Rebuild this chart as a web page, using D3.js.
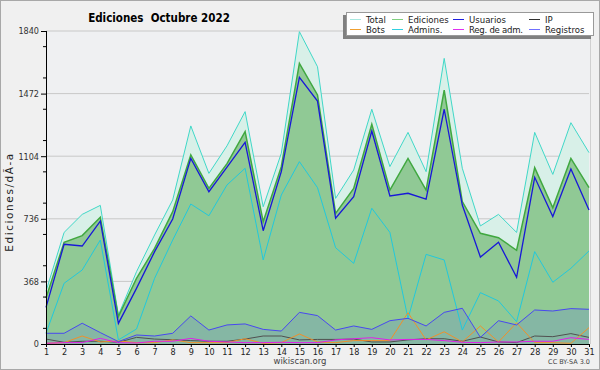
<!DOCTYPE html>
<html>
<head>
<meta charset="utf-8">
<script src="https://cdn.jsdelivr.net/npm/d3@7"></script>
<style>
  body { margin: 0; background: #f0f0f0; }
  svg { display: block; font-family: "DejaVu Sans", sans-serif; }
</style>
</head>
<body>
<div id="chart"></div>
<script>
// días del mes
const days = d3.range(1, 32);

const total     = [310, 656, 762, 815, 170, 425, 641, 847, 1282, 1003, 1165, 1366, 807, 1121, 1836, 1630, 856, 1023, 1380, 1043, 1244, 1013, 1679, 1033, 694, 762, 656, 1244, 997, 1301, 1125];
const ediciones = [270, 598, 637, 745, 161, 386, 562, 778, 1111, 915, 1060, 1248, 719, 1042, 1650, 1464, 768, 915, 1291, 905, 1091, 905, 1493, 837, 651, 625, 551, 1037, 801, 1091, 919];
const usuarios  = [215, 586, 576, 723, 121, 327, 543, 735, 1091, 895, 1040, 1185, 666, 1013, 1568, 1428, 739, 866, 1252, 870, 886, 852, 1380, 817, 511, 598, 392, 980, 749, 1029, 788];
const admins    = [63, 357, 435, 611, 24, 88, 386, 611, 823, 754, 935, 1033, 494, 876, 1072, 919, 566, 474, 798, 656, 150, 527, 494, 82, 302, 253, 131, 543, 363, 445, 547];
const registros = [63, 63, 122, 67, 14, 53, 47, 63, 165, 82, 112, 118, 86, 76, 186, 167, 82, 106, 86, 137, 151, 106, 186, 210, 39, 137, 112, 200, 194, 208, 204];
const ip        = [29, 10, 16, 16, 10, 39, 29, 25, 20, 16, 16, 29, 47, 47, 24, 27, 27, 29, 12, 12, 24, 31, 31, 16, 41, 12, 8, 47, 43, 61, 39];
const bots      = [4, 8, 47, 12, 18, 8, 8, 24, 8, 8, 8, 31, 4, 8, 59, 12, 8, 20, 20, 20, 184, 24, 72, 12, 106, 12, 125, 8, 8, 4, 96];
const regAdm    = [4, 8, 8, 33, 8, 6, 16, 16, 33, 16, 12, 8, 8, 10, 8, 8, 24, 31, 37, 24, 27, 27, 20, 10, 8, 12, 12, 16, 16, 37, 27];

const yTicks = [0, 368, 736, 1104, 1472, 1840];

const W = 600, H = 370;
const margin = {top: 31, right: 11, bottom: 26, left: 46};
const width = W - margin.left - margin.right,
      height = H - margin.top - margin.bottom;

const svg = d3.select("#chart").append("svg")
  .attr("width", W)
  .attr("height", H);

// fondo y marco
svg.append("rect").attr("x", 0.5).attr("y", 0.5).attr("width", W - 1).attr("height", H - 1)
  .attr("fill", "#f0f0f0").attr("stroke", "#a8a8a8");

const g = svg.append("g")
  .attr("transform", "translate(" + margin.left + "," + margin.top + ")");

const x = d3.scaleLinear().domain([1, 31]).range([0, width]);
const y = d3.scaleLinear().domain([0, 1840]).range([height, 0]);

g.append("rect").attr("width", width + 1).attr("height", height)
  .attr("fill", "#eff0f2");

// rejilla
g.selectAll(".grid").data(yTicks.slice(1))
  .enter().append("line")
  .attr("x1", 0).attr("x2", width)
  .attr("y1", d => y(d)).attr("y2", d => y(d))
  .attr("stroke", "#c8c8c8").attr("stroke-width", 1);

g.append("line").attr("x1", width + 1.5).attr("x2", width + 1.5)
  .attr("y1", 0).attr("y2", height).attr("stroke", "#d0d0d0");

function area(arr) {
  return d3.area().x((d, i) => x(days[i])).y0(height).y1(d => y(d))(arr);
}
function line(arr) {
  return d3.line().x((d, i) => x(days[i])).y(d => y(d))(arr);
}

g.append("path").attr("d", area(total)).attr("fill", "#d8f0e8");
g.append("path").attr("d", area(ediciones)).attr("fill", "#90c995");
g.append("path").attr("d", area(registros)).attr("fill", "#4a50ff").attr("fill-opacity", 0.15);

const series = [
  {data: admins, color: "#22c8dc", w: 1},
  {data: ip, color: "#505050", w: 1},
  {data: bots, color: "#f0902a", w: 1},
  {data: regAdm, color: "#e020e8", w: 1},
  {data: registros, color: "#4848f0", w: 1},
  {data: total, color: "#40d8c8", w: 1},
  {data: ediciones, color: "#40a840", w: 1.5},
  {data: usuarios, color: "#1818d8", w: 1.3}
];
series.forEach(s => {
  g.append("path").attr("d", line(s.data))
    .attr("fill", "none").attr("stroke", s.color).attr("stroke-width", s.w)
    .attr("stroke-linejoin", "miter");
});

// ejes
const yAxis = d3.axisLeft(y).tickValues(yTicks).tickSize(5).tickPadding(2).tickFormat(d3.format("d"));
const ya = g.append("g").call(yAxis);
ya.select(".domain").attr("stroke", "#000").attr("d", "M0.5,0V" + height);
ya.selectAll("text").attr("font-size", 9).attr("fill", "#333")
  .attr("font-family", "'DejaVu Sans Condensed', 'DejaVu Sans', sans-serif");

g.append("g").selectAll(".minor").data(d3.range(92, 1840, 184))
  .enter().append("line")
  .attr("x1", -3).attr("x2", 0)
  .attr("y1", d => y(d)).attr("y2", d => y(d))
  .attr("stroke", "#000");

const xAxis = d3.axisBottom(x).tickValues(days).tickSize(3).tickPadding(2).tickFormat(d3.format("d"));
const xa = g.append("g").attr("transform", "translate(0," + height + ")").call(xAxis);
xa.select(".domain").attr("stroke", "#000").attr("d", "M0,0.5H" + width);
xa.selectAll("text").attr("font-size", 9).attr("fill", "#222")
  .attr("font-family", "'DejaVu Sans Condensed', 'DejaVu Sans', sans-serif");

// textos
svg.append("text").attr("x", 159).attr("y", 22).attr("text-anchor", "middle")
  .attr("font-size", 11.5).attr("font-weight", "bold")
  .attr("font-family", "'DejaVu Sans Condensed', 'DejaVu Sans', sans-serif")
  .text("Ediciones  Octubre 2022").style("white-space", "pre");

svg.append("text").attr("transform", "translate(13,202) rotate(-90)")
  .attr("text-anchor", "middle").attr("font-size", 10.5).attr("fill", "#222")
  .attr("letter-spacing", 1.6)
  .text("Ediciones/dÃ-a");

svg.append("text").attr("x", 300).attr("y", 364).attr("text-anchor", "middle")
  .attr("font-size", 8.5).attr("fill", "#444").text("wikiscan.org");
svg.append("text").attr("x", 590).attr("y", 364).attr("text-anchor", "end")
  .attr("font-size", 6.5).attr("fill", "#444").text("CC BY-SA 3.0");

// leyenda
const legendItems = [
  {name: "Total", color: "#a8e8e0"},
  {name: "Ediciones", color: "#80d080"},
  {name: "Usuarios", color: "#2020e0"},
  {name: "IP", color: "#303030"},
  {name: "Bots", color: "#f0a030"},
  {name: "Admins.", color: "#30d0e0"},
  {name: "Reg. de adm.", color: "#e030f0"},
  {name: "Registros", color: "#7070ff"}
];
const colX = [350, 392, 453, 529];
const rowY = [19, 29];

svg.append("rect").attr("x", 343).attr("y", 15).attr("width", 248).attr("height", 24).attr("fill", "#808080");
svg.append("rect").attr("x", 346.5).attr("y", 12.5).attr("width", 247).attr("height", 23)
  .attr("fill", "#fff").attr("stroke", "#999");

const leg = svg.append("g").selectAll("g").data(legendItems).enter().append("g")
  .attr("transform", (d, i) => "translate(" + colX[i % 4] + "," + rowY[Math.floor(i / 4)] + ")");
leg.append("line").attr("x1", 0).attr("x2", 11).attr("y1", 0.5).attr("y2", 0.5)
  .attr("stroke", d => d.color);
leg.append("text").attr("x", 16).attr("y", 3.5).attr("font-size", 9.5).attr("fill", "#222")
  .attr("font-family", "'DejaVu Sans Condensed', 'DejaVu Sans', sans-serif")
  .attr("textLength", d => d.name === "Reg. de adm." ? 54 : null)
  .text(d => d.name);
</script>
</body>
</html>
